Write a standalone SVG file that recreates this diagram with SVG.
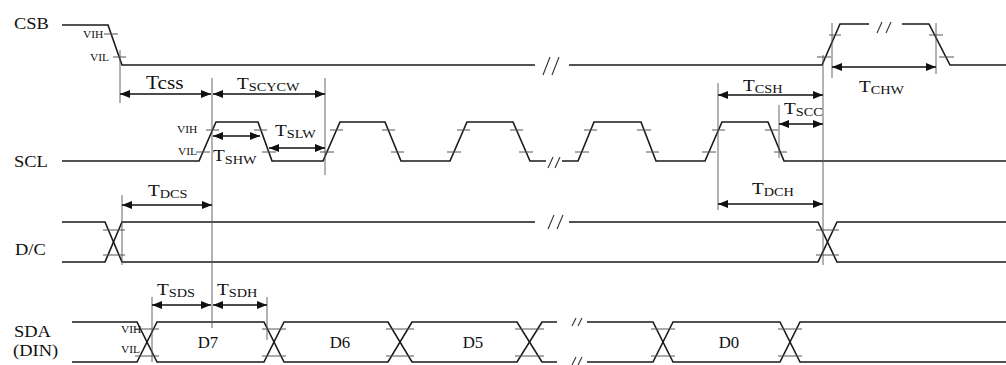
<svg xmlns="http://www.w3.org/2000/svg" width="1006" height="365" viewBox="0 0 1006 365">
<defs>
<marker id="ah" markerWidth="10" markerHeight="8" refX="10" refY="4" orient="auto-start-reverse" markerUnits="userSpaceOnUse"><path d="M0,0 L10,4 L0,8 z" fill="#111"/></marker>
<style>
.sig{fill:none;stroke:#1a1a1a;stroke-width:1.6;stroke-linejoin:miter}
.tk{fill:none;stroke:#555;stroke-width:1}
.ext{fill:none;stroke:#555;stroke-width:0.9}
.arr{fill:none;stroke:#111;stroke-width:1.6;marker-start:url(#ah);marker-end:url(#ah)}
.brk{fill:none;stroke:#333;stroke-width:1.1}
text{font-family:"Liberation Serif","Times New Roman",serif;fill:#111}
.lbl{font-size:16.5px}
.t{font-size:17.5px}
.s{font-size:13px}
.v{font-size:10px}
.d{font-size:16px}
</style>
</defs>
<rect width="1006" height="365" fill="#fff"/>

<g id="csb">
<text class="lbl" transform="translate(14,29) scale(1.12,1)">CSB</text>
<path class="sig" d="M62,25 H108 L122,65 H535"/>
<path class="sig" d="M569,65 H822 L840,24 H869"/>
<path class="sig" d="M902,24 H929 L950,65 H1006"/>
<path class="brk" d="M543,75 L550,57 M552,75 L559,57"/>
<path class="brk" d="M877,33 L882,22 M886,33 L891,22"/>
<path class="tk" d="M104,34 H118 M113,57 H126 M817,57 H831 M829,35 H841 M929,35 H943 M939,57 H954"/>
<text class="v" transform="translate(83,38) scale(1.15,1)">VIH</text>
<text class="v" transform="translate(90,61) scale(1.15,1)">VIL</text>
</g>

<g id="scl">
<text class="lbl" transform="translate(14,167) scale(1.12,1)">SCL</text>
<path class="sig" d="M62,161 H199 L216,122 H258 L272,161 H323 L340,122 H385 L401,161 H450 L467,122 H513 L530,161 H546"/>
<path class="sig" d="M562,161 H578 L594,122 H641 L656,161 H705 L722,122 H768 L784,161 H1006"/>
<path class="brk" d="M548,168 L553,157 M555,168 L560,157"/>
<path class="tk" d="M206,130 H219 M196,152 H210 M254,130 H267 M262,152 H276 M330,130 H343 M320,152 H334 M382,130 H395 M391,152 H404 M457,130 H470 M447,152 H461 M510,130 H523 M519,152 H533 M584,130 H597 M575,152 H589 M637,130 H651 M646,152 H659 M712,130 H725 M702,152 H716 M765,130 H778 M774,152 H787"/>
<text class="v" transform="translate(177,133) scale(1.15,1)">VIH</text>
<text class="v" transform="translate(178,155) scale(1.15,1)">VIL</text>
</g>

<g id="dc">
<text class="lbl" transform="translate(15,255) scale(1.12,1)">D/C</text>
<path class="sig" d="M62,222 H105 L122,262 H818 L837,222 H1006"/>
<path class="sig" d="M62,262 H105 L122,222 H535"/>
<path class="sig" d="M569,222 H818 L837,262 H1006"/>
<path class="brk" d="M548,229 L554,215 M557,229 L563,215"/>
<path class="tk" d="M103,230 H125 M103,255 H125 M816,230 H839 M816,255 H839"/>
</g>

<g id="sda">
<text class="lbl" transform="translate(14,337) scale(1.12,1)">SDA</text>
<text class="lbl" transform="translate(13,356) scale(1.12,1)">(DIN)</text>
<path class="sig" d="M72,322 H137 L157,362 H264 L284,322 H388 L412,362 H517 L542,322 H557"/>
<path class="sig" d="M72,362 H137 L157,322 H264 L284,362 H388 L412,322 H517 L542,362 H557"/>
<path class="sig" d="M587,322 H653 L673,362 H780 L800,322 H1006"/>
<path class="sig" d="M587,362 H653 L673,322 H780 L800,362 H1006"/>
<path class="brk" d="M572,326 L576,318 M578,326 L582,318 M572,365 L576,357 M578,365 L582,357"/>
<path class="tk" d="M135,329 H159 M135,356 H159 M262,329 H286 M262,356 H286 M386,329 H414 M386,356 H414 M515,329 H544 M515,356 H544 M651,329 H675 M651,356 H675 M778,329 H802 M778,356 H802"/>
<text class="v" transform="translate(121,333) scale(1.15,1)">VIH</text>
<text class="v" transform="translate(121,353) scale(1.15,1)">VIL</text>
<text class="d" text-anchor="middle" transform="translate(208,348) scale(1.05,1)">D7</text>
<text class="d" text-anchor="middle" transform="translate(340,348) scale(1.05,1)">D6</text>
<text class="d" text-anchor="middle" transform="translate(473,348) scale(1.05,1)">D5</text>
<text class="d" text-anchor="middle" transform="translate(729,348) scale(1.05,1)">D0</text>
</g>

<g id="timing">
<path class="ext" d="M120,50 V103 M212,78 V328 M325,78 V175 M718,83 V210 M779,105 V158 M823,55 V265 M832,23 V78 M936,23 V74 M122,195 V265 M152,297 V362 M267,297 V340"/>
<path class="arr" d="M120,94 H211"/>
<path class="arr" d="M213,94 H325"/>
<path class="arr" d="M213,136 H260"/>
<path class="arr" d="M269,148 H325"/>
<path class="arr" d="M718,95 H823"/>
<path class="arr" d="M779,124 H823"/>
<path class="arr" d="M832,67 H936"/>
<path class="arr" d="M122,205 H212"/>
<path class="arr" d="M718,204 H823"/>
<path class="arr" d="M152,305 H211"/>
<path class="arr" d="M213,305 H267"/>
<text style="font-size:18.5px" transform="translate(146,89) scale(1.15,1)">Tcss</text>
<text class="t" transform="translate(237,89) scale(1.1,1)">T<tspan class="s" dy="2">SCYCW</tspan></text>
<text class="t" transform="translate(213,161) scale(1.1,1)">T<tspan class="s" dy="3">SHW</tspan></text>
<text class="t" transform="translate(275,136) scale(1.1,1)">T<tspan class="s" dy="2">SLW</tspan></text>
<text class="t" transform="translate(148,196) scale(1.1,1)">T<tspan class="s" dy="2">DCS</tspan></text>
<text class="t" transform="translate(743,91) scale(1.1,1)">T<tspan class="s" dy="2">CSH</tspan></text>
<text class="t" transform="translate(784,114) scale(1.1,1)">T<tspan class="s" dy="2">SCC</tspan></text>
<text class="t" transform="translate(859,92) scale(1.1,1)">T<tspan class="s" dy="2">CHW</tspan></text>
<text class="t" transform="translate(752,194) scale(1.1,1)">T<tspan class="s" dy="2">DCH</tspan></text>
<text class="t" transform="translate(157,295) scale(1.1,1)">T<tspan class="s" dy="2">SDS</tspan></text>
<text class="t" transform="translate(217,295) scale(1.1,1)">T<tspan class="s" dy="2">SDH</tspan></text>
</g>
</svg>
